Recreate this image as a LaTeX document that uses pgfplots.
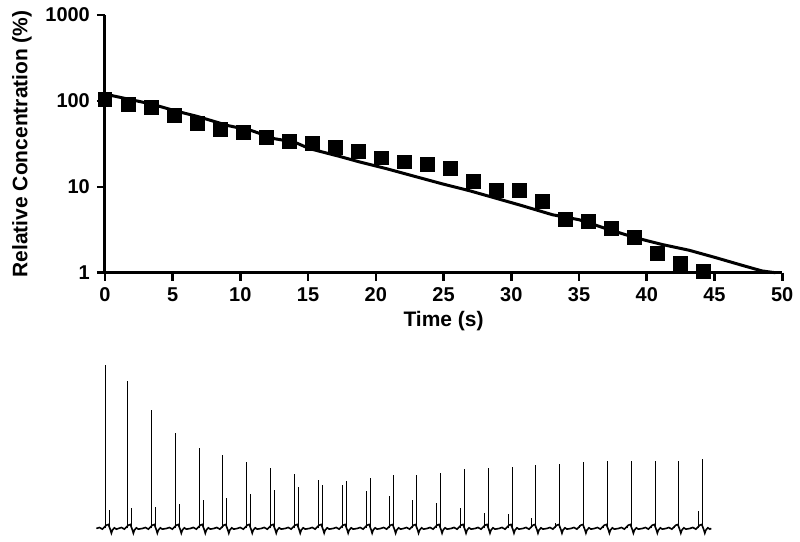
\documentclass[border=0pt]{standalone}
\usepackage{fontspec}
\setmainfont{Liberation Sans}
\usepackage{pgfplots}
\pgfplotsset{compat=1.18}
\begin{document}
\begin{tikzpicture}
\path (0,0) rectangle (400pt,271pt);
\begin{axis}[
  at={(52.5pt,134.5pt)}, anchor=south west,
  scale only axis, width=339pt, height=129pt,
  xmin=0, xmax=50, ymin=1, ymax=1000, ymode=log,
  xtick={0,5,...,50}, xticklabels={0,5,10,15,20,25,30,35,40,45,50},
  ytick={1,10,100,1000}, yticklabels={1,10,100,1000},
  yminorticks=false,
  axis lines*=left,
  axis line style={line width=1.5pt},
  tick align=outside,
  major tick length=4pt,
  every major tick/.append style={black, line width=1.3pt},
  ticklabel style={font=\fontsize{10}{12}\selectfont\bfseries},
  label style={font=\fontsize{10.5}{12}\selectfont\bfseries},
  xlabel={Time (s)}, ylabel={Relative Concentration (\%)},
  xlabel style={yshift=2pt},
  clip=false,
]
\addplot[line width=1.5pt, black] coordinates {
 (0,120) (1.72,105) (3.44,91.9) (5.16,76.9) (6.88,65.6) (9.09,51.6) (10.81,45.2)
 (12.53,36.3) (14.0,33.1) (15.11,27.8) (17.32,22.6) (18.79,19.5) (20.76,16.3)
 (22.97,13.1) (24.93,10.8) (26.9,9.02) (28.86,7.37) (30.83,6.01) (33.04,4.73)
 (35.0,4.14) (37.21,3.18) (39.18,2.55) (41.14,2.13) (43.11,1.83) (45.08,1.50)
 (47.04,1.22) (48.5,1.05) (49.5,1.0)
};
\addplot[only marks, mark=square*, mark size=3.5pt, black] coordinates {
 (0,103) (1.7,90) (3.4,83) (5.1,67) (6.8,55) (8.5,47) (10.2,42.5) (11.9,38) (13.6,33.4)
 (15.3,31.6) (17.0,29) (18.7,25.5) (20.4,21.7) (22.1,19.5) (23.8,18) (25.5,16.2)
 (27.2,11.7) (28.9,9.0) (30.6,9.0) (32.3,6.7) (34.0,4.2) (35.7,4.0) (37.4,3.25)
 (39.1,2.55) (40.8,1.7) (42.5,1.3) (44.2,1.03)
};
\end{axis}
\begin{axis}[
  at={(0pt,0pt)}, anchor=south west,
  scale only axis, width=400pt, height=271pt,
  xmin=0, xmax=800, ymin=-39, ymax=1587,
  hide axis, clip=false, unbounded coords=jump,
]
% tick marks of the upper axis (x ticks below the time axis, y ticks left of it)
\addplot[line width=1.3pt, black, forget plot] coordinates {
 (105,768) (105,744) (105,nan) (172.8,768) (172.8,744) (172.8,nan)
 (240.6,768) (240.6,744) (240.6,nan) (308.4,768) (308.4,744) (308.4,nan)
 (376.2,768) (376.2,744) (376.2,nan) (444,768) (444,744) (444,nan)
 (511.8,768) (511.8,744) (511.8,nan) (579.6,768) (579.6,744) (579.6,nan)
 (647.4,768) (647.4,744) (647.4,nan) (715.2,768) (715.2,744) (715.2,nan)
 (783,768) (783,744)
};
\addplot[line width=1.3pt, black, forget plot] coordinates {
 (105,768) (97,768) (nan,768) (105,1026) (97,1026) (nan,1026)
 (105,1284) (97,1284) (nan,1284) (105,1542) (97,1542)
};
\addplot[line width=0.8pt, black] table[row sep=\\] {
x y\\
96.5 0\\ 99.5 3\\ 102.5 -2\\ 104.5 4\\ 106.5 10\\ 108.5 12\\ 110.5 -4\\ 111.5 -14\\ 112.5 -5\\ 114.5 2\\ 116.5 -2\\
118.5 0\\ 121.5 3\\ 124.5 -2\\ 126.5 4\\ 128.5 10\\ 130.5 12\\ 132.5 -4\\ 133.5 -14\\ 134.5 -5\\ 136.5 2\\ 138.5 -2\\
142.5 0\\ 145.5 3\\ 148.5 -2\\ 150.5 4\\ 152.5 10\\ 154.5 12\\ 156.5 -4\\ 157.5 -14\\ 158.5 -5\\ 160.5 2\\ 162.5 -2\\
166.5 0\\ 169.5 3\\ 172.5 -2\\ 174.5 4\\ 176.5 10\\ 178.5 12\\ 180.5 -4\\ 181.5 -14\\ 182.5 -5\\ 184.5 2\\ 186.5 -2\\
190.5 0\\ 193.5 3\\ 196.5 -2\\ 198.5 4\\ 200.5 10\\ 202.5 12\\ 204.5 -4\\ 205.5 -14\\ 206.5 -5\\ 208.5 2\\ 210.5 -2\\
214 0\\ 217 3\\ 220 -2\\ 222 4\\ 224 10\\ 226 12\\ 228 -4\\ 229 -14\\ 230 -5\\ 232 2\\ 234 -2\\
237.5 0\\ 240.5 3\\ 243.5 -2\\ 245.5 4\\ 247.5 10\\ 249.5 12\\ 251.5 -4\\ 252.5 -14\\ 253.5 -5\\ 255.5 2\\ 257.5 -2\\
261.5 0\\ 264.5 3\\ 267.5 -2\\ 269.5 4\\ 271.5 10\\ 273.5 12\\ 275.5 -4\\ 276.5 -14\\ 277.5 -5\\ 279.5 2\\ 281.5 -2\\
285.5 0\\ 288.5 3\\ 291.5 -2\\ 293.5 4\\ 295.5 10\\ 297.5 12\\ 299.5 -4\\ 300.5 -14\\ 301.5 -5\\ 303.5 2\\ 305.5 -2\\
309.5 0\\ 312.5 3\\ 315.5 -2\\ 317.5 4\\ 319.5 10\\ 321.5 12\\ 323.5 -4\\ 324.5 -14\\ 325.5 -5\\ 327.5 2\\ 329.5 -2\\
333.5 0\\ 336.5 3\\ 339.5 -2\\ 341.5 4\\ 343.5 10\\ 345.5 12\\ 347.5 -4\\ 348.5 -14\\ 349.5 -5\\ 351.5 2\\ 353.5 -2\\
357.5 0\\ 360.5 3\\ 363.5 -2\\ 365.5 4\\ 367.5 10\\ 369.5 12\\ 371.5 -4\\ 372.5 -14\\ 373.5 -5\\ 375.5 2\\ 377.5 -2\\
381 0\\ 384 3\\ 387 -2\\ 389 4\\ 391 10\\ 393 12\\ 395 -4\\ 396 -14\\ 397 -5\\ 399 2\\ 401 -2\\
404 0\\ 407 3\\ 410 -2\\ 412 4\\ 414 10\\ 416 12\\ 418 -4\\ 419 -14\\ 420 -5\\ 422 2\\ 424 -2\\
427.5 0\\ 430.5 3\\ 433.5 -2\\ 435.5 4\\ 437.5 10\\ 439.5 12\\ 441.5 -4\\ 442.5 -14\\ 443.5 -5\\ 445.5 2\\ 447.5 -2\\
451.5 0\\ 454.5 3\\ 457.5 -2\\ 459.5 4\\ 461.5 10\\ 463.5 12\\ 465.5 -4\\ 466.5 -14\\ 467.5 -5\\ 469.5 2\\ 471.5 -2\\
475.5 0\\ 478.5 3\\ 481.5 -2\\ 483.5 4\\ 485.5 10\\ 487.5 12\\ 489.5 -4\\ 490.5 -14\\ 491.5 -5\\ 493.5 2\\ 495.5 -2\\
499.5 0\\ 502.5 3\\ 505.5 -2\\ 507.5 4\\ 509.5 10\\ 511.5 12\\ 513.5 -4\\ 514.5 -14\\ 515.5 -5\\ 517.5 2\\ 519.5 -2\\
523.5 0\\ 526.5 3\\ 529.5 -2\\ 531.5 4\\ 533.5 10\\ 535.5 12\\ 537.5 -4\\ 538.5 -14\\ 539.5 -5\\ 541.5 2\\ 543.5 -2\\
547.5 0\\ 550.5 3\\ 553.5 -2\\ 555.5 4\\ 557.5 10\\ 559.5 12\\ 561.5 -4\\ 562.5 -14\\ 563.5 -5\\ 565.5 2\\ 567.5 -2\\
571.5 0\\ 574.5 3\\ 577.5 -2\\ 579.5 4\\ 581.5 10\\ 583.5 12\\ 585.5 -4\\ 586.5 -14\\ 587.5 -5\\ 589.5 2\\ 591.5 -2\\
595 0\\ 598 3\\ 601 -2\\ 603 4\\ 605 10\\ 607 12\\ 609 -4\\ 610 -14\\ 611 -5\\ 613 2\\ 615 -2\\
619 0\\ 622 3\\ 625 -2\\ 627 4\\ 629 10\\ 631 12\\ 633 -4\\ 634 -14\\ 635 -5\\ 637 2\\ 639 -2\\
643 0\\ 646 3\\ 649 -2\\ 651 4\\ 653 10\\ 655 12\\ 657 -4\\ 658 -14\\ 659 -5\\ 661 2\\ 663 -2\\
666.5 0\\ 669.5 3\\ 672.5 -2\\ 674.5 4\\ 676.5 10\\ 678.5 12\\ 680.5 -4\\ 681.5 -14\\ 682.5 -5\\ 684.5 2\\ 686.5 -2\\
690.5 0\\ 693.5 3\\ 696.5 -2\\ 698.5 4\\ 700.5 10\\ 702.5 12\\ 704.5 -4\\ 705.5 -14\\ 706.5 -5\\ 708.5 2\\ 710.5 -2\\ 712 0\\
};
% first (decaying) spikes
\addplot[ycomb, line width=0.5pt, black, no marks] coordinates {
 (105.5,492) (127.5,442) (151.5,357) (175.5,287) (199.5,242) (223,220) (246.5,201)
 (270.5,182) (294.5,164) (318.5,147) (342.5,132) (366.5,113) (390,97) (413,87)
 (436.5,78) (460.5,60) (484.5,47) (508.5,43) (532.5,31) (556.5,17) (580.5,10)
 (604,5) (628,3) (652,3) (675.5,3) (699.5,52)
};
% second (growing) spikes
\addplot[ycomb, line width=0.5pt, black, no marks] coordinates {
 (109.5,56) (131.5,60) (155.5,65) (179.5,74) (203.5,85) (227,91) (250.5,104)
 (274.5,117) (298.5,126) (322.5,132) (346.5,142) (370.5,151) (394,161) (417,160)
 (440.5,167) (464.5,179) (488.5,182) (512.5,185) (536.5,192) (560.5,195) (584.5,201)
 (608,202) (632,202) (656,204) (679.5,204) (703.5,210)
};
\end{axis}
\end{tikzpicture}
\end{document}
